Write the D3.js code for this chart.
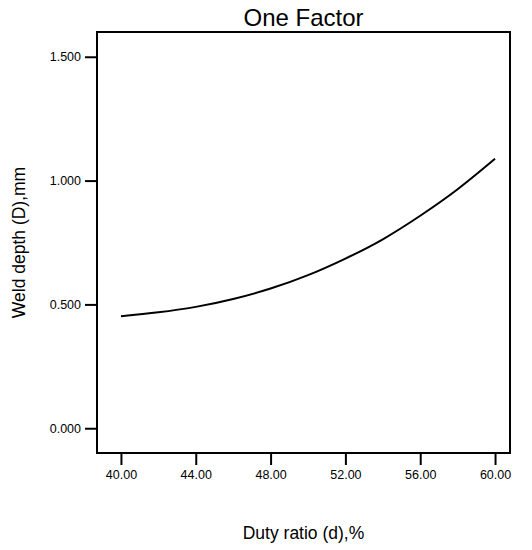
<!DOCTYPE html>
<html>
<head>
<meta charset="utf-8">
<script src="https://cdn.jsdelivr.net/npm/d3@7"></script>
<style>
  body { margin: 0; background: #fff; }
  text { font-family: "Liberation Sans", Arial, sans-serif; fill: #000; }
</style>
</head>
<body>
<svg id="chart" width="532" height="550"></svg>
<script>
// duty ratio values (%) and weld depth
const dutyRatio = [40, 42, 44, 46, 48, 50, 52, 54, 56, 58, 60]
const weldDepth = [0.452, 0.468, 0.490, 0.522, 0.564, 0.618, 0.685, 0.763, 0.858, 0.965, 1.088]

const xTicks = [40, 44, 48, 52, 56, 60]
const yTicks = [0, 0.5, 1.0, 1.5]

const svgWidth = 532
const svgHeight = 550
const margin = {top: 32, right: 22, bottom: 97, left: 97}
const width = svgWidth - margin.left - margin.right
const height = svgHeight - margin.top - margin.bottom

const svg = d3.select('#chart')

const chart = svg.append('g')
    .attr('transform', `translate(${margin.left}, ${margin.top})`)

const xScale = d3.scaleLinear()
    .domain([38.72, 60.8])
    .range([0, width])

const yScale = d3.scaleLinear()
    .domain([-0.1, 1.6])
    .range([height, 0])

//x axis
const xAxis = chart.append('g')
    .attr('transform', `translate(0, ${height})`)
    .call(d3.axisBottom(xScale)
        .tickValues(xTicks)
        .tickSize(12)
        .tickPadding(5)
        .tickFormat(d3.format('.2f')))
xAxis.select('.domain').remove()
xAxis.selectAll('line').attr('stroke', '#000').attr('stroke-width', 2)
xAxis.selectAll('text').style('font-size', '12.5px')
    .style('font-family', '"Liberation Sans", Arial, sans-serif')

//y axis
const yAxis = chart.append('g')
    .call(d3.axisLeft(yScale)
        .tickValues(yTicks)
        .tickSize(12)
        .tickPadding(4)
        .tickFormat(d3.format('.3f')))
yAxis.select('.domain').remove()
yAxis.selectAll('line').attr('stroke', '#000').attr('stroke-width', 2)
yAxis.selectAll('text').style('font-size', '12.5px')
    .style('font-family', '"Liberation Sans", Arial, sans-serif')

//frame round the plot
chart.append('rect')
    .attr('x', 0)
    .attr('y', 0)
    .attr('width', width)
    .attr('height', height)
    .attr('fill', 'none')
    .attr('stroke', '#000')
    .attr('stroke-width', 2)

//the response curve
const line = d3.line()
    .x((d, i) => xScale(dutyRatio[i]))
    .y(d => yScale(d))
    .curve(d3.curveNatural)

chart.append('path')
    .datum(weldDepth)
    .attr('d', line)
    .attr('fill', 'none')
    .attr('stroke', '#000')
    .attr('stroke-width', 2)

//title
svg.append('text')
    .attr('x', margin.left + width / 2)
    .attr('y', 26)
    .attr('text-anchor', 'middle')
    .style('font-size', '24px')
    .text('One Factor')

//x label
svg.append('text')
    .attr('x', margin.left + width / 2)
    .attr('y', 539)
    .attr('text-anchor', 'middle')
    .style('font-size', '17.5px')
    .text('Duty ratio (d),%')

//y label
svg.append('text')
    .attr('transform', `translate(25, ${margin.top + height / 2}) rotate(-90)`)
    .attr('text-anchor', 'middle')
    .style('font-size', '17.5px')
    .text('Weld depth (D),mm')
</script>
</body>
</html>
